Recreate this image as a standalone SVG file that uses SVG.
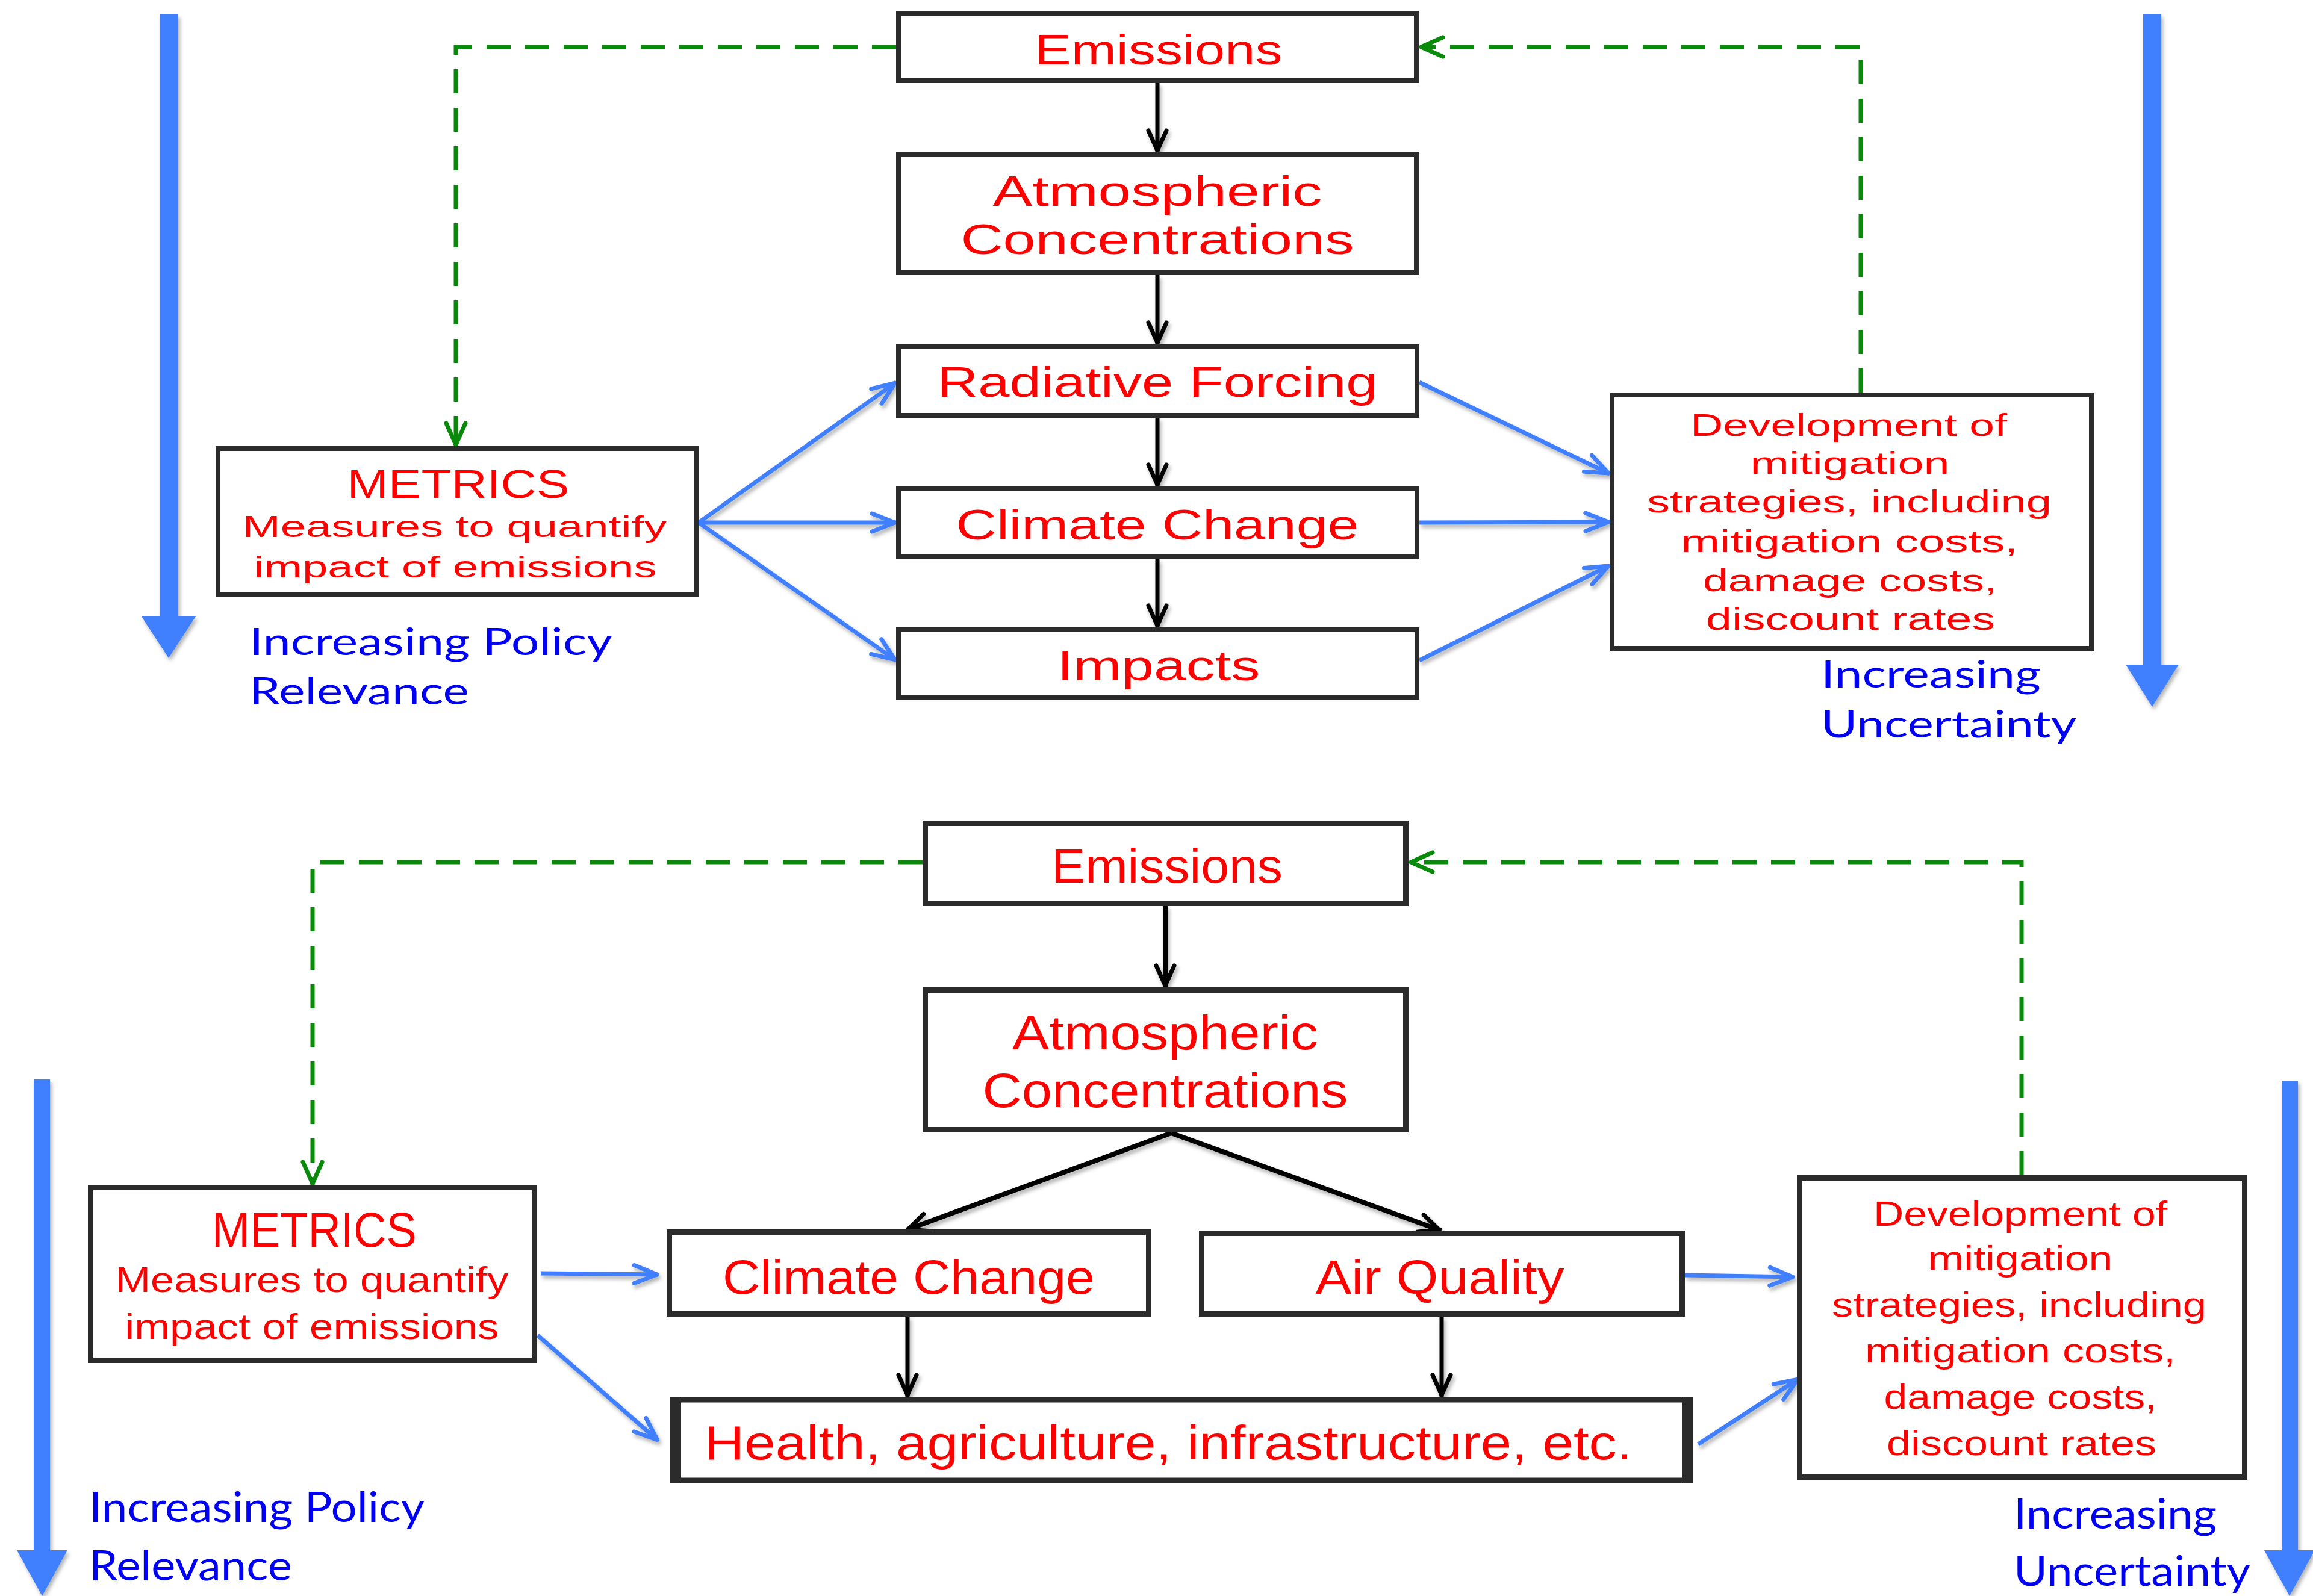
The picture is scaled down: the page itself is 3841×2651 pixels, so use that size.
<svg xmlns="http://www.w3.org/2000/svg" width="3841" height="2651" viewBox="0 0 3841 2651">
<defs>
<style>
.box{fill:#fff;stroke:#2b2b2b;stroke-width:8}
.box2{fill:#fff;stroke:#2b2b2b;stroke-width:9}
.rt{font-family:"Liberation Sans",Arial,sans-serif;fill:#ff0000;text-anchor:middle}
.bt{font-family:Lato,"Open Sans",sans-serif;fill:#0000f2}
.blk{stroke:#000;stroke-width:7;fill:none}
.blk2{stroke:#000;stroke-width:8;fill:none}
.blu{stroke:#4080ff;stroke-width:7;fill:none}
.grn{stroke:#0a8a0a;stroke-width:7;fill:none;stroke-dasharray:40 24}
.big{fill:#4080ff}
</style>
<filter id="sh" x="-20%" y="-20%" width="140%" height="140%">
<feDropShadow dx="3" dy="5" stdDeviation="3" flood-color="#000" flood-opacity="0.3"/>
</filter>
<marker id="mk" viewBox="-46 -24 52 48" refX="3" refY="0" markerWidth="52" markerHeight="48" markerUnits="userSpaceOnUse" orient="auto">
<path d="M-33,-15 L0,0 L-33,15" fill="none" stroke="#000" stroke-width="7" stroke-linecap="round" stroke-linejoin="round"/>
</marker>
<marker id="mb" viewBox="-46 -24 52 48" refX="2" refY="0" markerWidth="52" markerHeight="48" markerUnits="userSpaceOnUse" orient="auto">
<path d="M-38,-15 L0,0 L-38,15" fill="none" stroke="#4080ff" stroke-width="7" stroke-linecap="round" stroke-linejoin="round"/>
</marker>
<marker id="mg" viewBox="-46 -24 52 48" refX="2" refY="0" markerWidth="52" markerHeight="48" markerUnits="userSpaceOnUse" orient="auto">
<path d="M-36,-16 L0,0 L-36,16" fill="none" stroke="#0a8a0a" stroke-width="7" stroke-linecap="round" stroke-linejoin="round"/>
</marker>
</defs>
<rect x="0" y="0" width="3841" height="2651" fill="#fff"/>

<g id="connectors">
<g filter="url(#sh)">
<path class="blk" d="M1922,138 V253" marker-end="url(#mk)"/>
<path class="blk" d="M1922,457 V572" marker-end="url(#mk)"/>
<path class="blk" d="M1922,694 V808" marker-end="url(#mk)"/>
<path class="blk" d="M1922,929 V1042" marker-end="url(#mk)"/>
<path class="blu" d="M1160,868 L1488,635" marker-end="url(#mb)"/>
<path class="blu" d="M1160,868 L1488,868" marker-end="url(#mb)"/>
<path class="blu" d="M1160,868 L1488,1097" marker-end="url(#mb)"/>
<path class="blu" d="M2357,635 L2673,787" marker-end="url(#mb)"/>
<path class="blu" d="M2357,868 L2673,867" marker-end="url(#mb)"/>
<path class="blu" d="M2357,1097 L2673,939" marker-end="url(#mb)"/>
<path class="blk2" d="M1935,1505 V1640" marker-end="url(#mk)"/>
<path class="blk2" d="M1945,1882 L1505,2043" marker-end="url(#mk)"/>
<path class="blk2" d="M1945,1882 L2393,2044" marker-end="url(#mk)"/>
<path class="blk" d="M1507,2187 V2320" marker-end="url(#mk)"/>
<path class="blk" d="M2394,2187 V2320" marker-end="url(#mk)"/>
<path class="blu" d="M898,2115 L1093,2117" marker-end="url(#mb)"/>
<path class="blu" d="M893,2218 L1093,2393" marker-end="url(#mb)"/>
<path class="blu" d="M2798,2118 L2979,2121" marker-end="url(#mb)"/>
<path class="blu" d="M2820,2399 L2987,2290" marker-end="url(#mb)"/>
</g>
<path class="grn" d="M1488,78 H757 V741" marker-end="url(#mg)"/>
<path class="grn" d="M3090,652 V78 H2358" marker-end="url(#mg)"/>
<path class="grn" d="M1532,1432 H519 V1968" marker-end="url(#mg)"/>
<path class="grn" d="M3357,1952 V1432 H2341" marker-end="url(#mg)"/>
</g>

<g id="axis-top-left">
<g filter="url(#sh)">
<rect class="big" x="265" y="24" width="31" height="1002"/>
<polygon class="big" points="235,1024 325,1024 280,1093"/>
</g>
<text class="bt" x="414" y="1088" font-size="62" textLength="603" lengthAdjust="spacingAndGlyphs">Increasing Policy</text>
<text class="bt" x="414" y="1170" font-size="62" textLength="365" lengthAdjust="spacingAndGlyphs">Relevance</text>
</g>
<g id="axis-top-right">
<g filter="url(#sh)">
<rect class="big" x="3559" y="24" width="30" height="1082"/>
<polygon class="big" points="3530,1104 3618,1104 3574,1174"/>
</g>
<text class="bt" x="3024" y="1142" font-size="62" textLength="365" lengthAdjust="spacingAndGlyphs">Increasing</text>
<text class="bt" x="3024" y="1225" font-size="62" textLength="424" lengthAdjust="spacingAndGlyphs">Uncertainty</text>
</g>

<g id="t-emissions">
<rect class="box" x="1492" y="22" width="860" height="112"/>
<text class="rt" x="1924" y="107" font-size="70" textLength="411" lengthAdjust="spacingAndGlyphs">Emissions</text>
</g>
<g id="t-atmospheric">
<rect class="box" x="1492" y="257" width="860" height="196"/>
<text class="rt" x="1922" y="342" font-size="70" textLength="547" lengthAdjust="spacingAndGlyphs">Atmospheric</text>
<text class="rt" x="1922" y="422" font-size="70" textLength="653" lengthAdjust="spacingAndGlyphs">Concentrations</text>
</g>
<g id="t-radiative">
<rect class="box" x="1492" y="576" width="861" height="114"/>
<text class="rt" x="1922" y="659" font-size="70" textLength="731" lengthAdjust="spacingAndGlyphs">Radiative Forcing</text>
</g>
<g id="t-climate">
<rect class="box" x="1492" y="812" width="861" height="113"/>
<text class="rt" x="1922" y="896" font-size="70" textLength="669" lengthAdjust="spacingAndGlyphs">Climate Change</text>
</g>
<g id="t-impacts">
<rect class="box" x="1492" y="1046" width="861" height="112"/>
<text class="rt" x="1924" y="1130" font-size="70" textLength="337" lengthAdjust="spacingAndGlyphs">Impacts</text>
</g>
<g id="t-metrics">
<rect class="box" x="362" y="745" width="794" height="243"/>
<text class="rt" x="761" y="827" font-size="66" textLength="369" lengthAdjust="spacingAndGlyphs">METRICS</text>
<text class="rt" x="755" y="892" font-size="50" textLength="705" lengthAdjust="spacingAndGlyphs">Measures to quantify</text>
<text class="rt" x="756" y="959" font-size="50" textLength="669" lengthAdjust="spacingAndGlyphs">impact of emissions</text>
</g>
<g id="t-development">
<rect class="box" x="2677" y="656" width="796" height="421"/>
<text class="rt" x="3070" y="724" font-size="52" textLength="526" lengthAdjust="spacingAndGlyphs">Development of</text>
<text class="rt" x="3072" y="787" font-size="52" textLength="331" lengthAdjust="spacingAndGlyphs">mitigation</text>
<text class="rt" x="3071" y="851" font-size="52" textLength="672" lengthAdjust="spacingAndGlyphs">strategies, including</text>
<text class="rt" x="3071" y="917" font-size="52" textLength="560" lengthAdjust="spacingAndGlyphs">mitigation costs,</text>
<text class="rt" x="3072" y="982" font-size="52" textLength="488" lengthAdjust="spacingAndGlyphs">damage costs,</text>
<text class="rt" x="3073" y="1046" font-size="52" textLength="480" lengthAdjust="spacingAndGlyphs">discount rates</text>
</g>

<g id="axis-bottom-left">
<g filter="url(#sh)">
<rect class="big" x="56" y="1793" width="27" height="784"/>
<polygon class="big" points="28,2575 112,2575 70,2651"/>
</g>
<text class="bt" x="148" y="2528" font-size="70" textLength="557" lengthAdjust="spacingAndGlyphs">Increasing Policy</text>
<text class="bt" x="148" y="2625" font-size="70" textLength="337" lengthAdjust="spacingAndGlyphs">Relevance</text>
</g>
<g id="axis-bottom-right">
<g filter="url(#sh)">
<rect class="big" x="3789" y="1795" width="27" height="782"/>
<polygon class="big" points="3760,2575 3844,2575 3802,2651"/>
</g>
<text class="bt" x="3344" y="2539" font-size="70" textLength="337" lengthAdjust="spacingAndGlyphs">Increasing</text>
<text class="bt" x="3344" y="2634" font-size="70" textLength="393" lengthAdjust="spacingAndGlyphs">Uncertainty</text>
</g>

<g id="b-emissions">
<rect class="box2" x="1536.5" y="1367.5" width="798" height="133"/>
<text class="rt" x="1938" y="1466" font-size="80" textLength="384" lengthAdjust="spacingAndGlyphs">Emissions</text>
</g>
<g id="b-atmospheric">
<rect class="box2" x="1536.5" y="1644.5" width="798" height="232"/>
<text class="rt" x="1935" y="1743" font-size="80" textLength="508" lengthAdjust="spacingAndGlyphs">Atmospheric</text>
<text class="rt" x="1935" y="1839" font-size="80" textLength="607" lengthAdjust="spacingAndGlyphs">Concentrations</text>
</g>
<g id="b-climate">
<rect class="box2" x="1111.5" y="2046.5" width="796" height="136"/>
<text class="rt" x="1509" y="2149" font-size="80" textLength="618" lengthAdjust="spacingAndGlyphs">Climate Change</text>
</g>
<g id="b-airquality">
<rect class="box2" x="1995.5" y="2048.5" width="798" height="134"/>
<text class="rt" x="2391" y="2149" font-size="80" textLength="413" lengthAdjust="spacingAndGlyphs">Air Quality</text>
</g>
<g id="b-health">
<rect class="box2" x="1117" y="2325" width="1690" height="134" stroke-width="10"/>
<rect x="1112" y="2320" width="19" height="144" fill="#2b2b2b"/>
<rect x="2793" y="2320" width="19" height="144" fill="#2b2b2b"/>
<text class="rt" x="1940" y="2424" font-size="80" textLength="1541" lengthAdjust="spacingAndGlyphs">Health, agriculture, infrastructure, etc.</text>
</g>
<g id="b-metrics">
<rect class="box2" x="150.5" y="1972.5" width="737" height="287"/>
<text class="rt" x="522" y="2071" font-size="81" textLength="340" lengthAdjust="spacingAndGlyphs">METRICS</text>
<text class="rt" x="518" y="2146" font-size="60" textLength="653" lengthAdjust="spacingAndGlyphs">Measures to quantify</text>
<text class="rt" x="518" y="2224" font-size="60" textLength="621" lengthAdjust="spacingAndGlyphs">impact of emissions</text>
</g>
<g id="b-development">
<rect class="box2" x="2988.5" y="1956.5" width="739" height="497"/>
<text class="rt" x="3355" y="2036" font-size="58" textLength="488" lengthAdjust="spacingAndGlyphs">Development of</text>
<text class="rt" x="3355" y="2110" font-size="58" textLength="307" lengthAdjust="spacingAndGlyphs">mitigation</text>
<text class="rt" x="3353" y="2187" font-size="58" textLength="622" lengthAdjust="spacingAndGlyphs">strategies, including</text>
<text class="rt" x="3355" y="2263" font-size="58" textLength="516" lengthAdjust="spacingAndGlyphs">mitigation costs,</text>
<text class="rt" x="3355" y="2340" font-size="58" textLength="453" lengthAdjust="spacingAndGlyphs">damage costs,</text>
<text class="rt" x="3357" y="2417" font-size="58" textLength="448" lengthAdjust="spacingAndGlyphs">discount rates</text>
</g>
</svg>
